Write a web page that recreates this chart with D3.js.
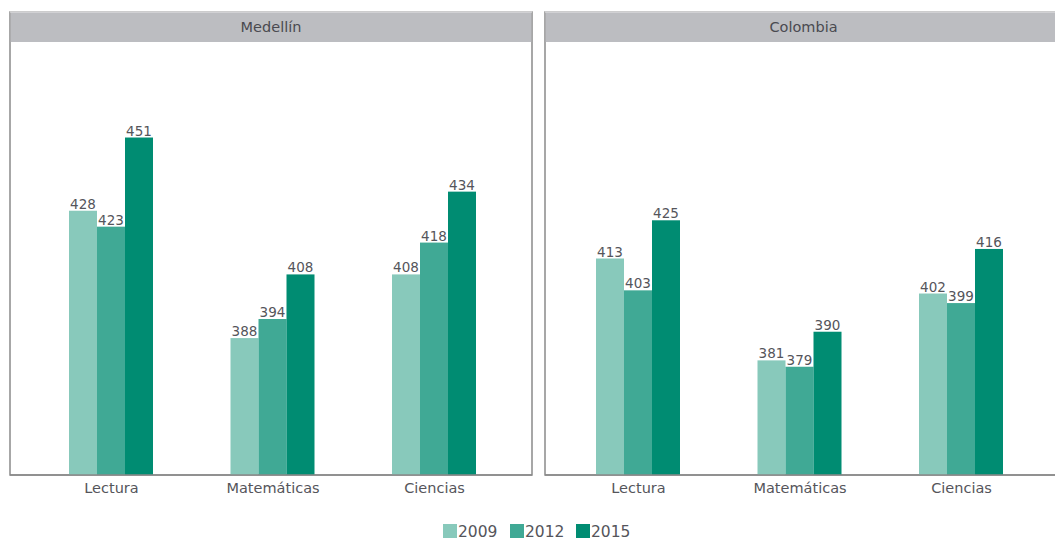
<!DOCTYPE html>
<html><head><meta charset="utf-8">
<script src="https://cdn.jsdelivr.net/npm/d3@7"></script>
<style>body{margin:0;background:#fff;}svg{display:block;}</style>
</head><body>
<svg id="c" width="1055" height="542"></svg>
<script>
const panels = ["Medellín", "Colombia"];
const categories = ["Lectura", "Matemáticas", "Ciencias"];
const years = ["2009", "2012", "2015"];
const medellin = {Lectura: [428, 423, 451], "Matemáticas": [388, 394, 408], Ciencias: [408, 418, 434]};
const colombia = {Lectura: [413, 403, 425], "Matemáticas": [381, 379, 390], Ciencias: [402, 399, 416]};
const colors = ["#88c9bb", "#40a995", "#008c72"];

const svg = d3.select("#c");
const font = "'DejaVu Sans', sans-serif";
const plotTop = 42, plotBottom = 475;
const y = d3.scaleLinear().domain([345, 481]).range([plotBottom, plotTop]);

const layout = [
  {x0: 10, x1: 532, c0: 111, c1: 434, data: medellin},
  {x0: 545, x1: 1062, c0: 638, c1: 961, data: colombia}
];

layout.forEach((p, pi) => {
  const g = svg.append("g");
  g.append("rect").attr("x", p.x0).attr("y", 12).attr("width", p.x1 - p.x0).attr("height", plotBottom - 12)
    .attr("fill", "#fff").attr("stroke", "#8a8a8a").attr("stroke-width", 1.5);
  g.append("rect").attr("x", p.x0 + 0.75).attr("y", 12).attr("width", p.x1 - p.x0 - 1.5).attr("height", 30)
    .attr("fill", "#bcbdc1");
  g.append("line").attr("x1", p.x0).attr("x2", p.x1).attr("y1", 12).attr("y2", 12).attr("stroke", "#d8d8da").attr("stroke-width", 1.5);
  g.append("text").attr("x", (p.x0 + p.x1) / 2).attr("y", 32).attr("text-anchor", "middle")
    .attr("font-family", font).attr("font-size", 14.5).attr("fill", "#4a4a50").text(panels[pi]);

  const x = d3.scalePoint().domain(categories).range([p.c0, p.c1]);
  const xi = d3.scaleBand().domain(years).range([-42, 42]);

  categories.forEach(cat => {
    const cg = g.append("g").attr("transform", `translate(${x(cat)},0)`);
    const vals = p.data[cat];
    cg.selectAll("rect").data(vals).join("rect")
      .attr("x", (d, i) => xi(years[i])).attr("width", xi.bandwidth())
      .attr("y", d => y(d)).attr("height", d => plotBottom - y(d))
      .attr("fill", (d, i) => colors[i]);
    cg.selectAll("text.v").data(vals).join("text").attr("class", "v")
      .attr("x", (d, i) => xi(years[i]) + xi.bandwidth() / 2).attr("y", d => y(d) - 2)
      .attr("text-anchor", "middle").attr("font-family", font).attr("font-size", 13.5)
      .attr("fill", "#55555b").text(d => d);
  });

  const ax = g.append("g").attr("transform", `translate(0,${plotBottom})`)
    .call(d3.axisBottom(x).tickSize(0).tickPadding(8));
  ax.select(".domain").remove();
  ax.selectAll("text").attr("font-family", font).attr("font-size", 14.5).attr("fill", "#55555b");
  g.append("line").attr("x1", p.x0).attr("x2", p.x1).attr("y1", plotBottom).attr("y2", plotBottom)
    .attr("stroke", "#8a8a8a").attr("stroke-width", 1.5);
});

const legX = [443, 510, 576];
const lg = svg.append("g");
years.forEach((yr, i) => {
  lg.append("rect").attr("x", legX[i]).attr("y", 524).attr("width", 14).attr("height", 14).attr("fill", colors[i]);
  lg.append("text").attr("x", legX[i] + 15).attr("y", 537).attr("font-family", font).attr("font-size", 15.5)
    .attr("fill", "#55555b").text(yr);
});
</script>
</body></html>
